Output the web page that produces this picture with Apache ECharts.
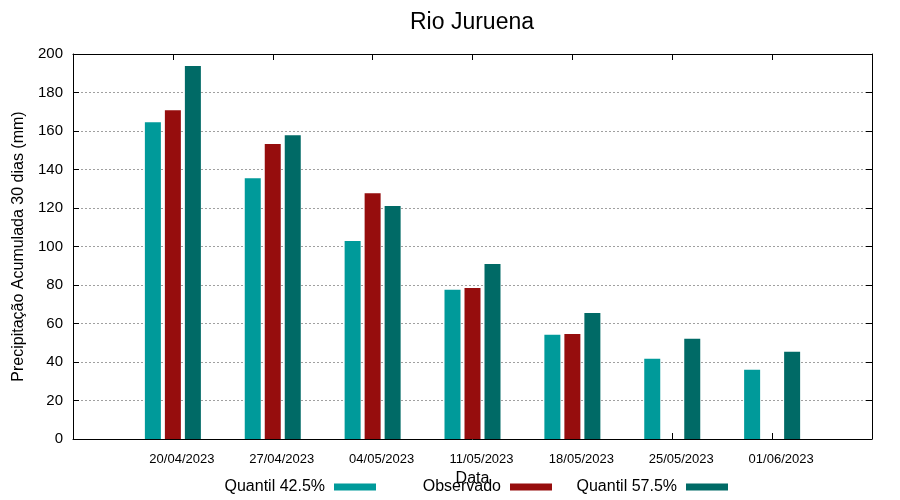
<!DOCTYPE html>
<html><head><meta charset="utf-8">
<script src="https://cdn.jsdelivr.net/npm/echarts@6/dist/echarts.min.js"></script>
<style>html,body{margin:0;padding:0;background:#fff}#c{width:900px;height:500px}</style>
</head><body><div id="c"></div>
<script>
const categories = ['20/04/2023','27/04/2023','04/05/2023','11/05/2023','18/05/2023','25/05/2023','01/06/2023'];
const q425 = [164.6, 135.5, 102.9, 77.5, 54.1, 41.7, 36.0];
const observado = [170.8, 153.2, 127.7, 78.5, 54.6, null, null];
const q575 = [193.8, 157.8, 121.1, 90.9, 65.5, 52.1, 45.3];
const seriesNames = ['Quantil 42.5%', 'Observado', 'Quantil 57.5%'];
const colors = ['#009a9a', '#960d0d', '#006a66'];
const yTicks = {min: 0, max: 200, interval: 20};

const FONT = '"Liberation Sans", Arial, sans-serif';
const toPairs = arr => arr.map((v, i) => [i, v === null ? '-' : v]);

const chart = echarts.init(document.getElementById('c'), null, {renderer: 'canvas'});
const legendRights = [524, 348, 172];
const option = {
  animation: false,
  backgroundColor: '#fff',
  title: {text: 'Rio Juruena', left: 467, textAlign: 'center', top: 6,
    textStyle: {fontFamily: FONT, fontSize: 23, fontWeight: 'normal', color: '#000'}},
  grid: {left: 73, right: 28, top: 54, bottom: 61},
  legend: seriesNames.map((n, i) => ({
    data: [n], right: legendRights[i], bottom: 5, padding: 0, align: 'right', icon: 'rect',
    itemWidth: 42, itemHeight: 7, itemGap: 0,
    textStyle: {fontFamily: FONT, fontSize: 16, color: '#000', padding: [0, 4, 0, 0]}
  })),
  xAxis: [
    {type: 'value', min: -1, max: 6 + 1, interval: 1, position: 'bottom',
      name: 'Data', nameLocation: 'middle', nameGap: 24,
      nameTextStyle: {fontFamily: FONT, fontSize: 16, color: '#000'},
      axisLine: {show: true, onZero: false, lineStyle: {color: '#000', width: 1}},
      axisTick: {show: true, inside: true, length: 6, lineStyle: {color: '#000'}},
      axisLabel: {fontFamily: FONT, fontSize: 13, color: '#000', margin: 14, padding: [0, 0, 0, 18],
        showMinLabel: true, showMaxLabel: true,
        formatter: v => (v >= 0 && v < categories.length && Number.isInteger(v)) ? categories[v] : ''},
      splitLine: {show: false}},
    {type: 'value', min: -1, max: 6 + 1, interval: 1, position: 'top',
      axisLine: {show: true, onZero: false, lineStyle: {color: '#000', width: 1}},
      axisTick: {show: true, inside: true, length: 6, lineStyle: {color: '#000'}},
      axisLabel: {show: false}, splitLine: {show: false}}
  ],
  yAxis: [
    {type: 'value', min: yTicks.min, max: yTicks.max, interval: yTicks.interval, position: 'left',
      name: 'Precipitação Acumulada 30 dias (mm)', nameLocation: 'middle', nameGap: 43,
      nameTextStyle: {fontFamily: FONT, fontSize: 16, color: '#000'},
      axisLine: {show: true, onZero: false, lineStyle: {color: '#000', width: 1}},
      axisTick: {show: true, inside: true, length: 6, lineStyle: {color: '#000'}},
      axisLabel: {fontFamily: FONT, fontSize: 15, color: '#000', margin: 10},
      splitLine: {show: true, lineStyle: {color: '#a0a0a0', type: [2, 2], width: 1}}},
    {type: 'value', min: yTicks.min, max: yTicks.max, interval: yTicks.interval, position: 'right',
      axisLine: {show: true, onZero: false, lineStyle: {color: '#000', width: 1}},
      axisTick: {show: true, inside: true, length: 6, lineStyle: {color: '#000'}},
      axisLabel: {show: false}, splitLine: {show: false}}
  ],
  series: [q425, observado, q575].map((arr, i) => ({
    name: seriesNames[i], type: 'bar', xAxisIndex: 0, yAxisIndex: 0,
    data: toPairs(arr), barWidth: 16, barGap: '25%',
    itemStyle: {color: colors[i]}, z: 1
  }))
};
chart.setOption(option);
</script></body></html>
